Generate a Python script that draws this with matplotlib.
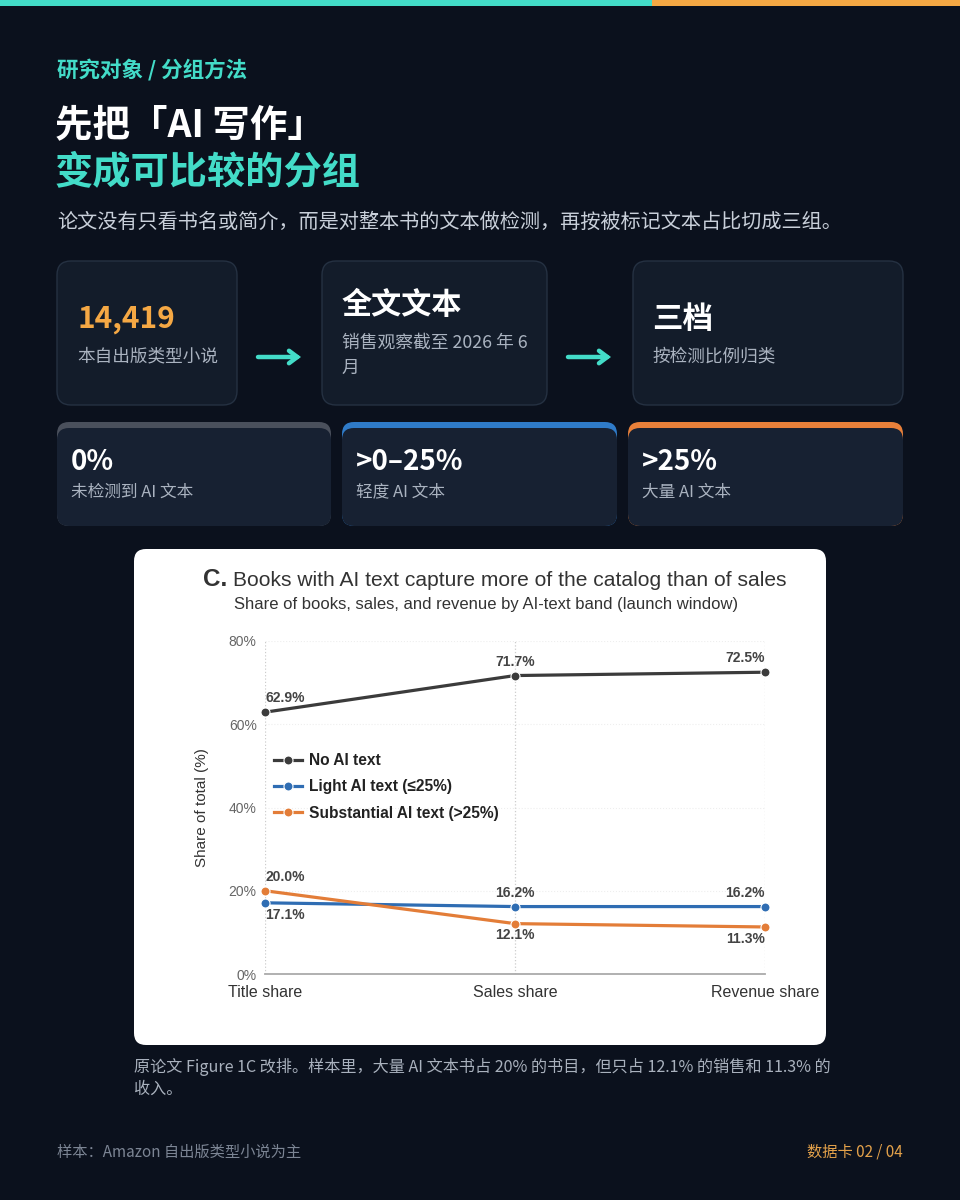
import matplotlib
matplotlib.use("Agg")
import matplotlib.pyplot as plt
from matplotlib.patches import FancyBboxPatch, Rectangle

CJK = ["Noto Sans CJK SC", "DejaVu Sans"]
LAT = ["Liberation Sans", "DejaVu Sans"]

# dados (Figure 1C)
categorias = ["Title share", "Sales share", "Revenue share"]
sem_ia = [62.9, 71.7, 72.5]
ia_leve = [17.1, 16.2, 16.2]
ia_forte = [20.0, 12.1, 11.3]
series = ["No AI text", "Light AI text (≤25%)", "Substantial AI text (>25%)"]
yticks = [0, 20, 40, 60, 80]

BG = "#0b111d"
TEAL = "#43dcc8"
ORANGE = "#f5a844"
CARD = "#131c2a"
EDGE = "#253142"
C_NO, C_LIGHT, C_HEAVY = "#3b3b3b", "#2f6db3", "#e37d38"

W, H = 960, 1200
fig = plt.figure(figsize=(W / 100, H / 100), dpi=100, facecolor=BG)
bg = fig.add_axes([0, 0, 1, 1])
bg.set_xlim(0, W); bg.set_ylim(H, 0); bg.axis("off")
bg.set_facecolor(BG)


def caixa(x0, y0, x1, y1, fc, ec="none", r=12, lw=1.0, z=1):
    bg.add_patch(FancyBboxPatch((x0, y0), x1 - x0, y1 - y0,
                                boxstyle=f"round,pad=0,rounding_size={r}",
                                fc=fc, ec=ec, lw=lw, zorder=z))


def txt(x, y, s, size, color, weight="normal", ha="left", fam=CJK, **kw):
    bg.text(x, y, s, fontsize=size, color=color, fontweight=weight, ha=ha,
            va="center", family=fam, **kw)


# barra superior
bg.add_patch(Rectangle((0, 0), 652, 6, fc=TEAL, ec="none"))
bg.add_patch(Rectangle((652, 0), W - 652, 6, fc=ORANGE, ec="none"))

# cabecalho
txt(57, 70, "研究对象 / 分组方法", 15.5, TEAL, "bold")
txt(55, 125, "先把「AI 写作」", 27, "white", "bold")
txt(55, 172, "变成可比较的分组", 27.5, TEAL, "bold")
txt(57, 222, "论文没有只看书名或简介，而是对整本书的文本做检测，再按被标记文本占比切成三组。",
    14.5, "#c9d0da")

# linha 1 de cartoes
for x0, x1 in [(57, 237), (322, 547), (633, 903)]:
    caixa(x0, 261, x1, 405, CARD, EDGE, r=14)
txt(77, 319, "14,419", 21.5, ORANGE, "bold")
txt(77, 356, "本自出版类型小说", 12.7, "#aab3c0")
txt(342, 305, "全文文本", 21.7, "white", "bold")
txt(342, 343, "销售观察截至 2026 年 6", 12.8, "#aab3c0")
txt(342, 368, "月", 12.8, "#aab3c0")
txt(652, 319, "三档", 22, "white", "bold")
txt(652, 356, "按检测比例归类", 12.7, "#aab3c0")
for xa in [258, 568]:
    bg.annotate("", xy=(xa + 43, 357), xytext=(xa, 357),
                arrowprops=dict(arrowstyle="->,head_length=0.6,head_width=0.45",
                                color=TEAL, lw=3.2, shrinkA=0, shrinkB=0,
                                capstyle="round", joinstyle="miter"))

# linha 2 de cartoes (faixas)
faixas = [(57, 331, "#4a505c", "0%", "未检测到 AI 文本"),
          (342, 617, "#2f7bc8", ">0–25%", "轻度 AI 文本"),
          (628, 903, "#e8803a", ">25%", "大量 AI 文本")]
for x0, x1, cor, big, small in faixas:
    caixa(x0, 422, x1, 526, cor, r=12)
    caixa(x0, 428, x1, 526, "#172132", r=12, z=2)
    bg.text(x0 + 14, 462, big, fontsize=20, color="white", fontweight="bold",
            va="center", family=CJK, zorder=3)
    bg.text(x0 + 14, 492, small, fontsize=12, color="#aab3c0",
            va="center", family=CJK, zorder=3)

# cartao do grafico
caixa(134, 549, 826, 1045, "white", r=12)
bg.text(203, 580, "C.", fontsize=17.5, fontweight="bold", color="#333333",
        va="center", family=LAT)
bg.text(233, 580, "Books with AI text capture more of the catalog than of sales",
        fontsize=15.1, color="#333333", va="center", family=LAT)
bg.text(486, 604, "Share of books, sales, and revenue by AI-text band (launch window)",
        fontsize=12, color="#333333", va="center", ha="center", family=LAT)

# legenda e rodape
txt(134, 1067, "原论文 Figure 1C 改排。样本里，大量 AI 文本书占 20% 的书目，但只占 12.1% 的销售和 11.3% 的",
    11.6, "#a9b1bd")
txt(134, 1089, "收入。", 11.6, "#a9b1bd")
txt(57, 1152, "样本：Amazon 自出版类型小说为主", 11, "#7c8594")
txt(903, 1152, "数据卡 02 / 04", 11, "#e3a14a", ha="right")

# grafico
ax = fig.add_axes([265 / W, (H - 974) / H, 500 / W, (974 - 641) / H])
ax.set_facecolor("white")
x = list(range(len(categorias)))
for vals, cor, nome in [(sem_ia, C_NO, series[0]), (ia_leve, C_LIGHT, series[1]),
                        (ia_forte, C_HEAVY, series[2])]:
    ax.plot(x, vals, color=cor, lw=2.3, marker="o", ms=6.5, mec="white", mew=0.8,
            label=nome, clip_on=False, zorder=3)

has = ["left", "center", "right"]
UP, DN = 5, -3.5


def rotulo(i, v, dy):
    ax.annotate(f"{v:.1f}%", (i, v), xytext=(0, dy), textcoords="offset points",
                ha=has[i], va="bottom" if dy > 0 else "top", fontsize=10,
                fontweight="bold", color="#444444", family=LAT)


for i in x:
    rotulo(i, sem_ia[i], UP)
    rotulo(i, ia_leve[i], DN if i == 0 else UP)
    rotulo(i, ia_forte[i], UP if i == 0 else DN)

ax.set_xlim(0, 2); ax.set_ylim(0, 80)
ax.set_xticks(x); ax.set_xticklabels(categorias, fontsize=11.5, color="#333333", family=LAT)
ax.set_yticks(yticks); ax.set_yticklabels([f"{v}%" for v in yticks], fontsize=10,
                                           color="#666666", family=LAT)
ax.tick_params(length=0, pad=6)
ax.tick_params(axis="x", pad=8)
ax.set_ylabel("Share of total (%)", fontsize=11, color="#333333", family=LAT, labelpad=14)
for s in ["top", "right", "left"]:
    ax.spines[s].set_visible(False)
ax.spines["bottom"].set_color("#aaaaaa"); ax.spines["bottom"].set_linewidth(1.3)
ax.grid(True, axis="x", ls=":", color="#cccccc", lw=0.9)
ax.grid(True, axis="y", ls=":", color="#eeeeee", lw=0.8)
ax.set_axisbelow(True)
leg = ax.legend(loc="center left", bbox_to_anchor=(-0.01, (974 - 787) / 333), frameon=False,
                handlelength=1.8, handletextpad=0.45, labelspacing=0.72,
                prop={"family": LAT, "weight": "bold", "size": 11.2})
for t in leg.get_texts():
    t.set_color("#222222")

fig.savefig("out.png", dpi=100, facecolor=BG)
